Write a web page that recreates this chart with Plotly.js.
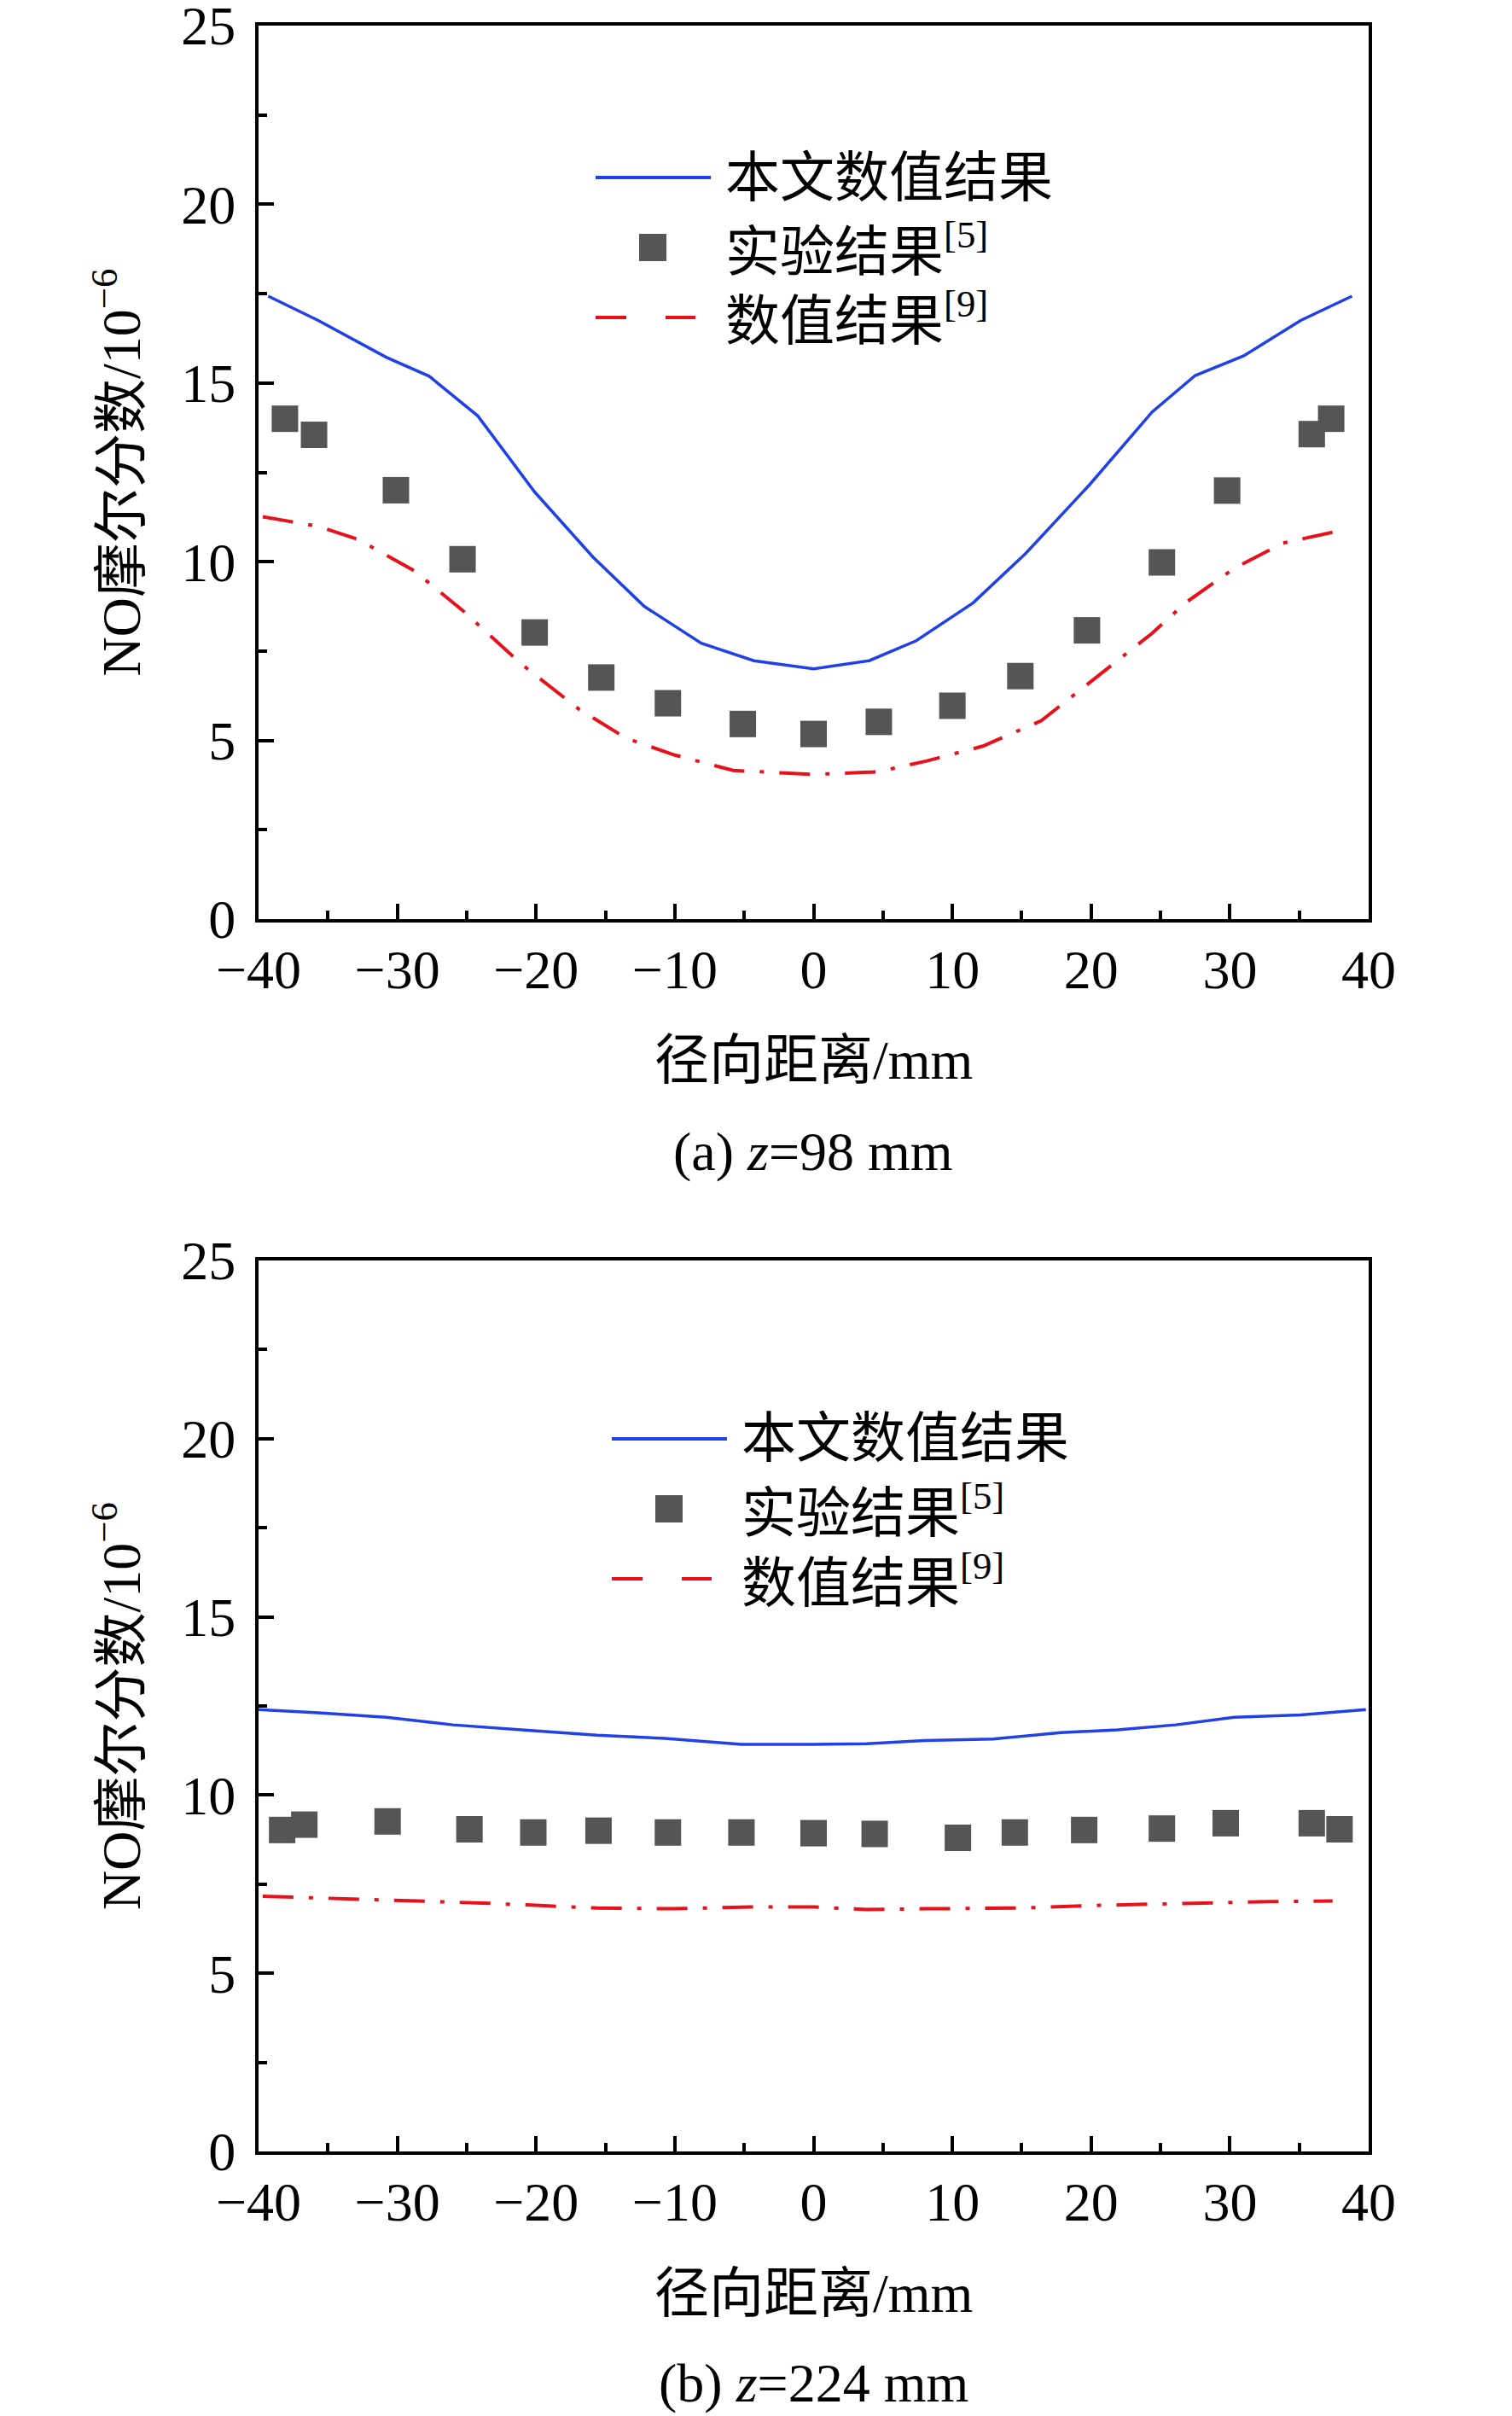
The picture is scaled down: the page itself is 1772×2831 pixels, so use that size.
<!DOCTYPE html>
<html>
<head>
<meta charset="utf-8">
<script src="https://cdn.plot.ly/plotly-3.0.1.min.js"></script>
<style>
  html, body { margin: 0; padding: 0; background: #fff; }
  #chart { width: 1772px; height: 2831px; }
</style>
</head>
<body>
<div id="chart"></div>
<script>
(() => {
  // ---- Data (radial distance in mm, NO mole fraction in 1e-6) ----
  // (a) z = 98 mm
  const xA_sim = [-39.3, -35.7, -30.8, -27.7, -24.2, -20.1, -15.9, -12.2, -8.1, -4.3, 0, 4.0, 7.4, 11.5, 15.3, 19.9, 24.4, 27.5, 31.0, 35.1, 38.8];
  const yA_sim = [17.43, 16.75, 15.72, 15.19, 14.08, 11.95, 10.13, 8.75, 7.72, 7.23, 7.0, 7.23, 7.79, 8.85, 10.24, 12.16, 14.19, 15.21, 15.76, 16.75, 17.43];
  const xA_exp = [-38.1, -36.0, -30.1, -25.3, -20.1, -15.3, -10.5, -5.1, 0, 4.7, 10.0, 14.9, 19.7, 25.1, 29.8, 35.9, 37.3];
  const yA_exp = [14.0, 13.55, 12.0, 10.07, 8.02, 6.76, 6.04, 5.46, 5.18, 5.52, 5.97, 6.80, 8.08, 9.98, 11.99, 13.57, 14.0];
  const xA_ref = [-39.7, -35.7, -32.8, -28.8, -25.3, -21.1, -16.9, -13.5, -10.0, -5.8, 0, 4.6, 8.1, 12.2, 16.4, 19.9, 24.4, 26.8, 30.3, 33.8, 37.6];
  const yA_ref = [11.26, 10.99, 10.62, 9.75, 8.64, 7.15, 5.87, 5.06, 4.59, 4.16, 4.05, 4.12, 4.42, 4.84, 5.55, 6.61, 8.0, 8.85, 9.81, 10.52, 10.84];

  // (b) z = 224 mm
  const xB_sim = [-40, -35.7, -30.8, -26.0, -20.4, -15.6, -10.7, -5.2, 0, 3.8, 8.0, 12.9, 17.8, 21.9, 26.1, 30.3, 35.1, 39.8];
  const yB_sim = [12.40, 12.31, 12.18, 11.97, 11.81, 11.68, 11.59, 11.42, 11.42, 11.44, 11.53, 11.57, 11.75, 11.83, 11.97, 12.18, 12.25, 12.40];
  const xB_exp = [-38.3, -36.7, -30.7, -24.8, -20.2, -15.5, -10.5, -5.2, 0, 4.4, 10.4, 14.5, 19.5, 25.1, 29.7, 35.9, 37.9];
  const yB_exp = [9.02, 9.17, 9.26, 9.04, 8.95, 9.0, 8.95, 8.95, 8.93, 8.91, 8.80, 8.95, 9.02, 9.06, 9.21, 9.21, 9.04];
  const xB_ref = [-39.7, -34.3, -29.4, -23.9, -19.7, -15.6, -10.0, -4.5, 0, 3.8, 8.0, 14.9, 19.8, 24.6, 28.8, 32.9, 37.4];
  const yB_ref = [7.16, 7.10, 7.03, 6.97, 6.90, 6.83, 6.81, 6.86, 6.86, 6.79, 6.81, 6.83, 6.90, 6.94, 6.99, 7.01, 7.03];

  const LEGEND_NAMES = ["本文数值结果", "实验结果<sup>[5]</sup>", "数值结果<sup>[9]</sup>"];
  const X_TITLE = "径向距离/mm";
  const Y_TITLE = "NO摩尔分数/10<sup>−6</sup>";
  const CAPTIONS = ["(a) <i>z</i>=98 mm", "(b) <i>z</i>=224 mm"];

  const W = 1772, H = 2831;
  const BLUE = "#2040e8";
  const RED = "#e8101a";
  const GREY = "#555555";
  const FONT = "Liberation Serif, 'Noto Sans CJK SC', serif";
  const FS = 64;

  const px = (x) => x / W;
  const py = (y) => 1 - y / H;

  // plot frames in pixels
  const frames = [
    { l: 303, r: 1604, t: 30, b: 1077, legX: 698, legY: 208, capY: 1349, titY: 1242 },
    { l: 303, r: 1604, t: 1477, b: 2521, legX: 717, legY: 1686, capY: 2792, titY: 2687 },
  ];

  function simTrace(x, y, ax) {
    return { x, y, xaxis: ax[0], yaxis: ax[1], type: "scatter", mode: "lines",
      line: { color: BLUE, width: 3.5 }, showlegend: false, hoverinfo: "x+y" };
  }
  function expTrace(x, y, ax) {
    return { x, y, xaxis: ax[0], yaxis: ax[1], type: "scatter", mode: "markers",
      marker: { symbol: "square", size: 31, color: GREY, line: { width: 0 } }, showlegend: false };
  }
  function refTrace(x, y, ax) {
    return { x, y, xaxis: ax[0], yaxis: ax[1], type: "scatter", mode: "lines",
      line: { color: RED, width: 4, dash: "36px,18px,5px,18px" }, showlegend: false };
  }

  const traces = [
    simTrace(xA_sim, yA_sim, ["x", "y"]),
    expTrace(xA_exp, yA_exp, ["x", "y"]),
    refTrace(xA_ref, yA_ref, ["x", "y"]),
    simTrace(xB_sim, yB_sim, ["x2", "y2"]),
    expTrace(xB_exp, yB_exp, ["x2", "y2"]),
    refTrace(xB_ref, yB_ref, ["x2", "y2"]),
  ];

  function xAxis(f, anchor) {
    return {
      domain: [px(f.l), px(f.r)], anchor, range: [-40, 40],
      dtick: 10, tick0: 0, ticks: "inside", ticklen: 18, tickwidth: 4, tickcolor: "#000",
      minor: { dtick: 5, ticks: "inside", ticklen: 10, tickwidth: 4, tickcolor: "#000" },
      showline: true, mirror: true, linewidth: 4, linecolor: "#000",
      showgrid: false, zeroline: false, ticklabelstandoff: 0, ticklabeloverflow: "allow",
      tickfont: { family: FONT, size: FS, color: "#000" },
      fixedrange: true,
    };
  }
  function yAxis(f, anchor) {
    return {
      domain: [py(f.b), py(f.t)], anchor, range: [0, 25],
      dtick: 5, tick0: 0, ticks: "inside", ticklen: 18, tickwidth: 4, tickcolor: "#000",
      minor: { dtick: 2.5, ticks: "inside", ticklen: 10, tickwidth: 4, tickcolor: "#000" },
      showline: true, mirror: true, linewidth: 4, linecolor: "#000",
      showgrid: false, zeroline: false, ticklabelstandoff: 10, ticklabeloverflow: "allow",
      tickfont: { family: FONT, size: FS, color: "#000" },
      title: { text: Y_TITLE, font: { family: FONT, size: FS, color: "#000" }, standoff: 28 },
      fixedrange: true,
    };
  }

  const shapes = [];
  const annotations = [];
  frames.forEach((f, i) => {
    // hand-drawn legend, placed like the original
    const ly = [f.legY, f.legY + 82, f.legY + 164];
    shapes.push({ type: "line", xref: "paper", yref: "paper",
      x0: px(f.legX), x1: px(f.legX + 135), y0: py(ly[0]), y1: py(ly[0]),
      line: { color: BLUE, width: 4 } });
    shapes.push({ type: "rect", xref: "paper", yref: "paper",
      x0: px(f.legX + 51), x1: px(f.legX + 83), y0: py(ly[1] + 16), y1: py(ly[1] - 16),
      fillcolor: GREY, line: { width: 0 } });
    shapes.push({ type: "line", xref: "paper", yref: "paper",
      x0: px(f.legX), x1: px(f.legX + 36), y0: py(ly[2]), y1: py(ly[2]),
      line: { color: RED, width: 4 } });
    shapes.push({ type: "line", xref: "paper", yref: "paper",
      x0: px(f.legX + 82), x1: px(f.legX + 117), y0: py(ly[2]), y1: py(ly[2]),
      line: { color: RED, width: 4 } });
    LEGEND_NAMES.forEach((name, k) => {
      annotations.push({ xref: "paper", yref: "paper", x: px(f.legX + 150), y: py(ly[k]),
        xanchor: "left", yanchor: "middle", showarrow: false, text: name,
        font: { family: FONT, size: FS, color: "#000" } });
    });
    // x-axis title and caption
    const cx = px((f.l + f.r) / 2);
    annotations.push({ xref: "paper", yref: "paper", x: cx, y: py(f.titY),
      xanchor: "center", yanchor: "middle", showarrow: false, text: X_TITLE,
      font: { family: FONT, size: FS, color: "#000" } });
    annotations.push({ xref: "paper", yref: "paper", x: cx, y: py(f.capY),
      xanchor: "center", yanchor: "middle", showarrow: false, text: CAPTIONS[i],
      font: { family: FONT, size: FS, color: "#000" } });
  });

  const layout = {
    width: W, height: H,
    margin: { l: 0, r: 0, t: 0, b: 0 },
    paper_bgcolor: "white", plot_bgcolor: "white",
    font: { family: FONT, size: FS, color: "#000" },
    showlegend: false,
    xaxis: xAxis(frames[0], "y"),
    yaxis: yAxis(frames[0], "x"),
    xaxis2: xAxis(frames[1], "y2"),
    yaxis2: yAxis(frames[1], "x2"),
    shapes, annotations,
  };

  Plotly.newPlot("chart", traces, layout, { displayModeBar: false, staticPlot: true });
})();
</script>
</body>
</html>
